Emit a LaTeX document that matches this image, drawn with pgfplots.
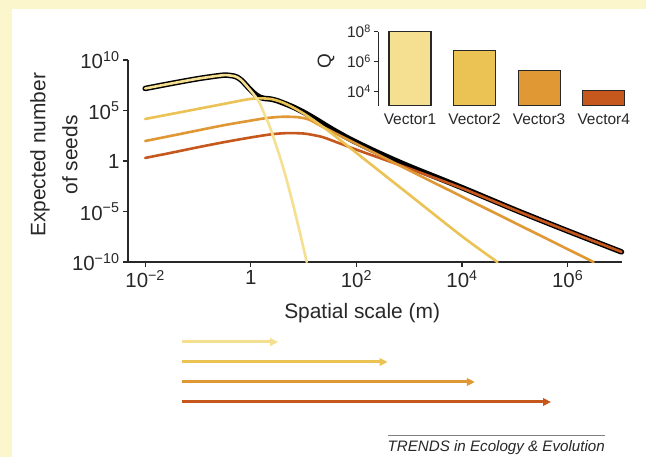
\documentclass[border=0pt]{standalone}
\usepackage{fontspec}
\setmainfont{Liberation Sans}
\usepackage{pgfplots}
\pgfplotsset{compat=1.18}
\usetikzlibrary{arrows.meta}
\definecolor{bgyellow}{RGB}{252,246,205}
\definecolor{cA}{RGB}{245,224,145}
\definecolor{cB}{RGB}{235,194,84}
\definecolor{cC}{RGB}{224,152,52}
\definecolor{cD}{RGB}{198,88,30}
\definecolor{axgray}{RGB}{40,40,40}
\begin{document}
\begin{tikzpicture}[x=1bp,y=1bp]
\useasboundingbox (0,0) rectangle (646,457);
\fill[bgyellow] (0,0) rectangle (646,457);
\fill[white] (12,0) rectangle (646,448);
% ---------------- main axis
\begin{axis}[
  at={(128bp,195bp)}, anchor=south west,
  scale only axis, width=494bp, height=202bp,
  xmode=log, ymode=log,
  xmin=4.73e-3, xmax=1.07e7, ymin=1e-10, ymax=1e10,
  axis x line*=bottom, axis y line*=left,
  axis line style={line width=1.3bp, draw=axgray},
  tick style={line width=1.3bp, draw=axgray},
  tick align=outside, major tick length=5bp,
  xminorticks=false, yminorticks=false,
  xtick={1e-2,1,1e2,1e4,1e6},
  xticklabels={10\textsuperscript{−2},1,10\textsuperscript{2},10\textsuperscript{4},10\textsuperscript{6}},
  ytick={1e-10,1e-5,1,1e5,1e10},
  yticklabels={10\textsuperscript{−10},10\textsuperscript{−5},1,10\textsuperscript{5},10\textsuperscript{10}},
  tick label style={font=\fontsize{20.5}{24}\selectfont, text=axgray},
  xlabel={Spatial scale (m)},
  ylabel={Expected number\\of seeds},
  label style={font=\fontsize{21}{32}\selectfont, text=axgray},
  xlabel style={at={(axis description cs:0.474,-0.255)}, anchor=center},
  ylabel style={at={(axis description cs:-0.15,0.53)}, anchor=center, align=center},
  clip=false,
  every axis plot/.append style={line cap=round, line join=round, smooth, tension=0.5},
]
% total (black)
\addplot[black, line width=5.5bp] coordinates {
 (1e-2,1.514e7) (3.162e-2,4.786e7) (0.1,1.413e8) (0.2512,2.818e8) (0.3548,3.162e8)
 (0.5012,2.399e8) (0.6026,1.479e8) (0.7079,7.186e7) (1,1.034e7) (1.259,3.503e6)
 (1.479,2.077e6) (1.820,1.556e6) (2.291,1.391e6) (3.162,9.34e5) (6.310,2.225e5)
 (10,6.705e4) (15.85,1.704e4) (25.12,3.878e3) (35.48,1.305e3) (63.10,241.1)
 (100,69.61) (275.4,5.64) (1000,0.2958) (1e4,2.290e-3) (1e5,1.487e-5)
 (1e6,1.194e-7) (1.047e7,1e-9)};
% Vector4
\addplot[cD, line width=2.6bp] coordinates {
 (1e-2,1.995) (3.162e-2,6.607) (0.1,22.91) (0.3162,74.13) (1,213.8) (2.512,446.7)
 (5.012,575.4) (10,524.8) (15.85,354.8) (23.44,223.9) (47.86,56.23) (100,13.18)
 (275.4,1.995) (1000,0.1778) (1e4,1.995e-3) (1e5,1.413e-5) (1e6,1.175e-7) (1.047e7,1e-9)};
% Vector3
\addplot[cC, line width=2.6bp] coordinates {
 (1e-2,95.5) (3.162e-2,316.2) (0.1,1.072e3) (0.3162,3.548e3) (1,1e4) (1.995,1.778e4)
 (3.981,2.399e4) (7.943,2.138e4) (12.59,1.259e4) (19.95,3.548e3) (35.48,758.6)
 (63.10,166.0) (100,50.12) (275.4,3.548) (1000,0.1175) (1e4,2.951e-4) (1e5,7.413e-7)
 (1e6,1.862e-9) (3.090e6,1e-10)};
% Vector2
\addplot[cB, line width=2.6bp] coordinates {
 (1e-2,1.445e4) (3.162e-2,4.571e4) (0.1,1.445e5) (0.3162,4.571e5) (0.5623,8.318e5)
 (1,1.413e6) (1.585,1.585e6) (2.512,1.318e6) (3.981,6.310e5) (6.310,1.995e5)
 (10,5.012e4) (15.85,1e4) (25.12,1.778e3) (39.81,281.8) (63.10,42.66) (100,6.310)
 (1000,4.677e-4) (1e4,3.467e-8) (4.677e4,1e-10)};
% Vector1
\addplot[cA, line width=2.6bp] coordinates {
 (1e-2,1.514e7) (3.162e-2,4.786e7) (0.1,1.413e8) (0.2512,2.818e8) (0.3548,3.162e8)
 (0.5012,2.399e8) (0.6026,1.479e8) (0.7079,7.079e7) (1,8.913e6) (1.259,1.995e6)
 (1.479,5.129e5) (1.820,3.981e4) (2.291,2.512e3) (2.818,100) (3.548,2.692)
 (4.677,1.950e-2) (6.310,5.012e-5) (8.511,7.943e-8) (11.48,1e-10)};
\end{axis}
% ---------------- arrows (spatial ranges)
\begin{axis}[
  at={(128bp,30bp)}, anchor=south west,
  scale only axis, width=494bp, height=100bp,
  xmode=log, xmin=4.73e-3, xmax=1.07e7, ymin=0, ymax=100,
  hide axis, clip=false,
]
\addplot[cA, line width=3bp, -{Triangle[length=8bp,width=7.5bp]}] coordinates {(0.0499,85) (3.3,85)};
\addplot[cB, line width=3bp, -{Triangle[length=8bp,width=7.5bp]}] coordinates {(0.0499,65) (390,65)};
\addplot[cC, line width=3bp, -{Triangle[length=8bp,width=7.5bp]}] coordinates {(0.0499,45) (1.75e4,45)};
\addplot[cD, line width=3bp, -{Triangle[length=8bp,width=7.5bp]}] coordinates {(0.0499,25) (4.85e5,25)};
\end{axis}
% ---------------- inset bar chart
\begin{axis}[
  at={(378.3bp,351bp)}, anchor=south west,
  scale only axis, width=246.7bp, height=74.3bp,
  ymode=log, ymin=1e3, ymax=1e8, log origin=infty,
  xmin=-0.49, xmax=3.33,
  axis y line*=left, axis x line*=bottom,
  x axis line style={draw=none},
  y axis line style={line width=1.2bp, draw=axgray},
  ytick style={line width=1.2bp, draw=axgray},
  tick align=outside, major tick length=4bp,
  yminorticks=false,
  ytick={1e4,1e6,1e8},
  yticklabels={10\textsuperscript{4},10\textsuperscript{6},10\textsuperscript{8}},
  xtick={0,1,2,3}, xticklabels={Vector1,Vector2,Vector3,Vector4},
  xtick style={draw=none},
  tick label style={font=\fontsize{15.5}{18}\selectfont, text=axgray},
  ylabel={Q},
  ylabel style={font=\fontsize{19}{22}\selectfont, text=axgray, at={(axis description cs:-0.212,0.6)}, anchor=center},
]
\addplot[ybar, bar width=42bp, bar shift=0pt, fill=cA, draw=axgray, line width=1.1bp] coordinates {(0,1e8)};
\addplot[ybar, bar width=42bp, bar shift=0pt, fill=cB, draw=axgray, line width=1.1bp] coordinates {(1,5.248e6)};
\addplot[ybar, bar width=42bp, bar shift=0pt, fill=cC, draw=axgray, line width=1.1bp] coordinates {(2,2.455e5)};
\addplot[ybar, bar width=42bp, bar shift=0pt, fill=cD, draw=axgray, line width=1.1bp] coordinates {(3,1.122e4)};
\end{axis}
% ---------------- footer
\draw[gray, line width=0.8bp] (388,22) -- (605,22);
\node[anchor=base east, inner sep=0pt, font=\fontsize{15.2}{18}\selectfont\itshape, text=axgray] at (605,5.3) {TRENDS in Ecology \& Evolution};
\end{tikzpicture}
\end{document}
